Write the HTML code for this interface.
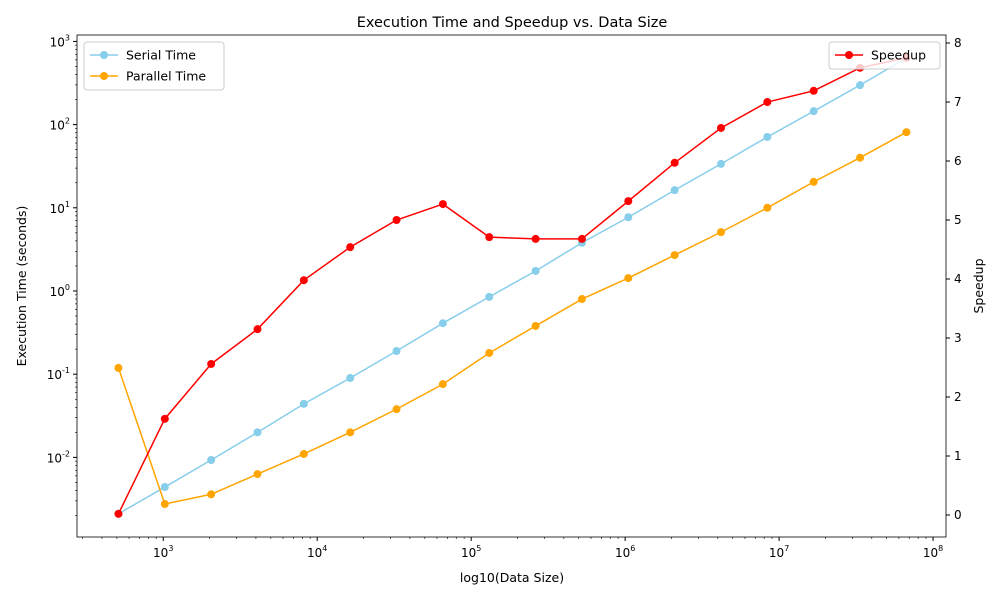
<!DOCTYPE html>
<html><head><meta charset="utf-8"><style>
body{margin:0;background:#fff;font-family:"Liberation Sans","DejaVu Sans",sans-serif}
svg text{font-family:"DejaVu Sans","Liberation Sans",sans-serif;fill:#000}
</style></head><body>
<svg id="c" width="1000" height="600" xmlns="http://www.w3.org/2000/svg"></svg>
<script>
const sizes=[512,1024,2048,4096,8192,16384,32768,65536,131072,262144,524288,1048576,2097152,4194304,8388608,16777216,33554432,67108864];
const serialTime=[0.0021,0.0044,0.0093,0.020,0.044,0.09,0.19,0.41,0.85,1.74,3.8,7.7,16.3,33.7,71,145,298,630];
const parallelTime=[0.119,0.00275,0.0036,0.0063,0.011,0.020,0.038,0.076,0.18,0.38,0.80,1.43,2.7,5.1,10,20.5,40,81];
const speedup=[0.02,1.63,2.56,3.15,3.98,4.54,5.0,5.27,4.71,4.68,4.68,5.32,5.97,6.56,7.0,7.19,7.58,7.75];
const xDecades=[3,4,5,6,7,8];
const yDecades=[-2,-1,0,1,2,3];
const rightTicks=[0,1,2,3,4,5,6,7,8];

const L=77,R=946,T=35,B=537;
const xMin=2.44,xMax=8.084,yMin=-2.957,yMax=3.077,rMin=-0.373,rMax=8.136;
const X=v=>L+(Math.log10(v)-xMin)/(xMax-xMin)*(R-L);
const Y=v=>B-(Math.log10(v)-yMin)/(yMax-yMin)*(B-T);
const YR=v=>B-(v-rMin)/(rMax-rMin)*(B-T);
const svg=document.getElementById('c');
const NS='http://www.w3.org/2000/svg';
function mk(tag,attrs,parent){const e=document.createElementNS(NS,tag);for(const k in attrs)e.setAttribute(k,attrs[k]);(parent||svg).appendChild(e);return e;}
function txt(s,x,y,attrs){const e=mk('text',Object.assign({x:x,y:y},attrs||{}));e.textContent=s;return e;}
function sup(base,exp,x,y,anchor){const e=mk('text',{x:x,y:y,'font-size':12,'text-anchor':anchor});const a=document.createElementNS(NS,'tspan');a.textContent=base;e.appendChild(a);const b=document.createElementNS(NS,'tspan');b.setAttribute('font-size',8);b.setAttribute('dy',-6);b.textContent=exp;e.appendChild(b);return e;}

// x ticks
for(const d of xDecades){const x=X(Math.pow(10,d));
 const t=mk('line',{x1:x,x2:x,y1:B,y2:B+4,stroke:'#000'});
 
 sup('10',String(d),x,B+20,'middle');}
for(let d=2;d<=8;d++)for(let m=2;m<10;m++){const v=m*Math.pow(10,d);const lv=Math.log10(v);if(lv<xMin||lv>xMax)continue;const x=X(v);mk('line',{x1:x,x2:x,y1:B,y2:B+2,stroke:'#000','stroke-width':0.6});}
// left y ticks
for(const d of yDecades){const y=Y(Math.pow(10,d));
 const t=mk('line',{x1:L-4,x2:L,y1:y,y2:y,stroke:'#000'});
 
 sup('10',String(d),L-7,y+5,'end');}
for(let d=-3;d<=3;d++)for(let m=2;m<10;m++){const v=m*Math.pow(10,d);const lv=Math.log10(v);if(lv<yMin||lv>yMax)continue;const y=Y(v);mk('line',{x1:L-2,x2:L,y1:y,y2:y,stroke:'#000','stroke-width':0.6});}
// right ticks
for(const v of rightTicks){const y=YR(v);mk('line',{x1:R,x2:R+4,y1:y,y2:y,stroke:'#000'});txt(String(v),R+8,y+4,{'font-size':12});}

function series(vals,yf,color,name){
 const g=mk('g',{});
 mk('polyline',{points:sizes.map((s,i)=>X(s)+','+yf(vals[i])).join(' '),fill:'none',stroke:color,'stroke-width':1.5},g);
 sizes.forEach((s,i)=>{const c=mk('circle',{cx:X(s),cy:yf(vals[i]),r:4,fill:color},g);});
}
series(serialTime,Y,'#87ceeb','serial-time-line');
series(parallelTime,Y,'#ffa500','parallel-time-line');
series(speedup,YR,'#ff0000','speedup-line');

const fr=mk('rect',{x:L,y:T,width:R-L,height:B-T,fill:'none',stroke:'#000','stroke-width':0.8});


const tt=txt('Execution Time and Speedup vs. Data Size',512,27,{'font-size':14.5,'text-anchor':'middle'});

const xt=txt('log10(Data Size)',512,582,{'font-size':12.5,'text-anchor':'middle'});

const yt=txt('Execution Time (seconds)',0,0,{'font-size':12.5,'text-anchor':'middle',transform:'translate(26,286) rotate(-90)'});

const rt=txt('Speedup',0,0,{'font-size':12.5,'text-anchor':'middle',transform:'translate(983,286) rotate(-90)'});


function legend(x,y,w,items,name){
 const g=mk('g',{});
 mk('rect',{x:x,y:y,width:w,height:items.length*21+6,rx:3,fill:'#fff','fill-opacity':0.8,stroke:'#ccc'},g);
 items.forEach((it,i)=>{const cy=y+13+i*21;
  mk('line',{x1:x+6,x2:x+34,y1:cy,y2:cy,stroke:it[1],'stroke-width':1.5},g);
  mk('circle',{cx:x+20,cy:cy,r:4,fill:it[1]},g);
  const t=txt(it[0],x+42,cy+4.5,{'font-size':12.5});g.appendChild(t);
  });
}
legend(84,42,140,[['Serial Time','#87ceeb'],['Parallel Time','#ffa500']],'legend-left');
legend(829,42,111,[['Speedup','#ff0000']],'legend-right');
</script>
</body></html>
